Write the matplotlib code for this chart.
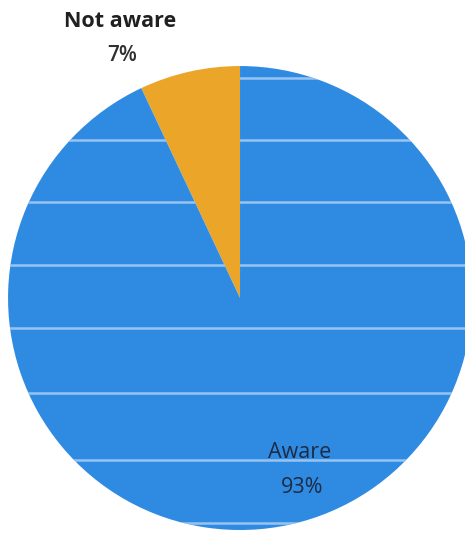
import matplotlib
matplotlib.use("Agg")
import matplotlib.pyplot as plt

labels = ["Not aware", "Aware"]
shares = [7, 93]
colors = ["#eba62a", "#2f8be2"]

# faint stripes across the blue slice (y in data units)
stripe_y = [0.948, 0.681, 0.414, 0.142, -0.129, -0.409, -0.698, -0.970]

fig = plt.figure(figsize=(4.65, 5.33), dpi=100)
ax = fig.add_axes([0.0172, 0.0056, 0.998, 0.8705])

wedges, _ = ax.pie(shares, colors=colors, startangle=90, counterclock=True,
                   radius=1, wedgeprops=dict(linewidth=0))

for y in stripe_y:
    ln = ax.axhline(y, color="#c3dcf5", linewidth=1.8, alpha=0.7)
    ln.set_clip_path(wedges[1])

ax.set_xlim(-1, 1)
ax.set_ylim(-1, 1)
ax.set_aspect("equal")
ax.axis("off")

font = "Open Sans"
ax.text(-0.517, 1.19, labels[0], ha="center", va="center", fontsize=15.5,
        fontweight="bold", color="#202020", family=font, clip_on=False)
ax.text(-0.509, 1.045, f"{shares[0]}%", ha="center", va="center", fontsize=15,
        fontweight="semibold", color="#303030", family=font, clip_on=False)
ax.text(0.259, -0.664, labels[1], ha="center", va="center", fontsize=15.5,
        fontweight="medium", color="#1d2b45", family=font)
ax.text(0.267, -0.815, f"{shares[1]}%", ha="center", va="center", fontsize=15.5,
        fontweight="medium", color="#1d2b45", family=font)

fig.savefig("out.png", dpi=100)
